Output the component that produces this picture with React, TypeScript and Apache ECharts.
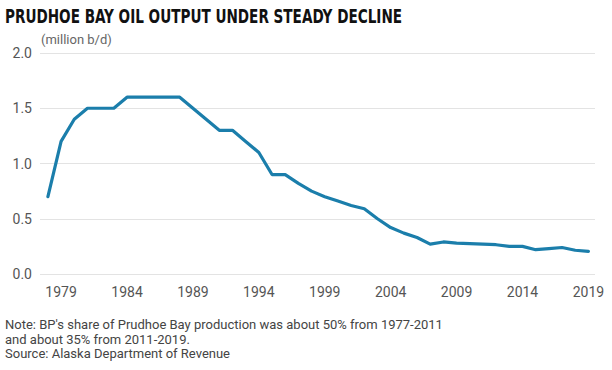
import React, { useEffect, useRef } from "react";
import * as echarts from "echarts";

const years: number[] = [
  1978, 1979, 1980, 1981, 1982, 1983, 1984, 1985, 1986, 1987, 1988, 1989, 1990, 1991,
  1992, 1993, 1994, 1995, 1996, 1997, 1998, 1999, 2000, 2001, 2002, 2003, 2004, 2005,
  2006, 2007, 2008, 2009, 2010, 2011, 2012, 2013, 2014, 2015, 2016, 2017, 2018, 2019,
];
const output: number[] = [
  0.7, 1.2, 1.4, 1.5, 1.5, 1.5, 1.6, 1.6, 1.6, 1.6, 1.6, 1.5, 1.4, 1.3,
  1.3, 1.2, 1.1, 0.9, 0.9, 0.82, 0.75, 0.7, 0.66, 0.62, 0.59, 0.5, 0.42, 0.37,
  0.33, 0.27, 0.29, 0.28, 0.275, 0.27, 0.265, 0.25, 0.25, 0.22, 0.23, 0.24, 0.215, 0.205,
];
const xTickLabels: number[] = [1979, 1984, 1989, 1994, 1999, 2004, 2009, 2014, 2019];
const yTicks: number[] = [0, 0.5, 1.0, 1.5, 2.0];

const title = "PRUDHOE BAY OIL OUTPUT UNDER STEADY DECLINE";
const unitLabel = "(million b/d)";
const noteLines: string[] = [
  "Note: BP's share of Prudhoe Bay production was about 50% from 1977-2011",
  "and about 35% from 2011-2019.",
  "Source: Alaska Department of Revenue",
];

export default function App() {
  const ref = useRef<HTMLDivElement>(null);
  useEffect(() => {
    document.body.style.margin = "0";
    if (!ref.current) return;
    const chart = echarts.init(ref.current, null, { renderer: "svg" });
    const labelFont = "Roboto, 'Liberation Sans', sans-serif";
    chart.setOption({
      animation: false,
      backgroundColor: "#ffffff",
      grid: { left: 40, right: 17, top: 53, bottom: 96 },
      xAxis: {
        type: "value",
        min: 1977.4,
        max: 2019.5,
        axisLine: { show: false },
        axisTick: { show: false },
        splitLine: { show: false },
        axisLabel: {
          customValues: xTickLabels,
          formatter: (v: number) => String(Math.round(v)),
          color: "#555555",
          fontSize: 14,
          fontFamily: labelFont,
          margin: 11,
          showMinLabel: true,
          showMaxLabel: true,
        },
      },
      yAxis: {
        type: "value",
        min: yTicks[0],
        max: yTicks[yTicks.length - 1],
        interval: 0.5,
        axisLine: { show: false },
        axisTick: { show: false },
        splitLine: { show: true, lineStyle: { color: "#e3e3e3", width: 1 } },
        axisLabel: {
          formatter: (v: number) => v.toFixed(1),
          color: "#555555",
          fontSize: 14,
          fontFamily: labelFont,
          margin: 8,
        },
      },
      series: [
        {
          type: "line",
          data: years.map((y, i) => [y, output[i]]),
          showSymbol: false,
          symbol: "none",
          lineStyle: { color: "#1b7eab", width: 3.2, join: "round", cap: "round" },
        },
      ],
      graphic: [
        {
          type: "text",
          x: 5,
          y: 6,
          scaleX: 0.755,
          style: {
            text: title,
            fill: "#111111",
            font: "bold 20px 'DejaVu Sans Condensed', 'DejaVu Sans', sans-serif",
          },
        },
        {
          type: "text",
          left: 41,
          top: 33,
          style: {
            text: unitLabel,
            fill: "#666666",
            font: "13px " + labelFont,
          },
        },
        ...noteLines.map((t, i) => ({
          type: "text",
          left: 5,
          top: 318 + i * 14.5,
          style: {
            text: t,
            fill: "#444444",
            font: "13px " + labelFont,
          },
        })),
      ],
    });
    return () => chart.dispose();
  }, []);
  return <div ref={ref} style={{ width: 612, height: 370 }} />;
}
